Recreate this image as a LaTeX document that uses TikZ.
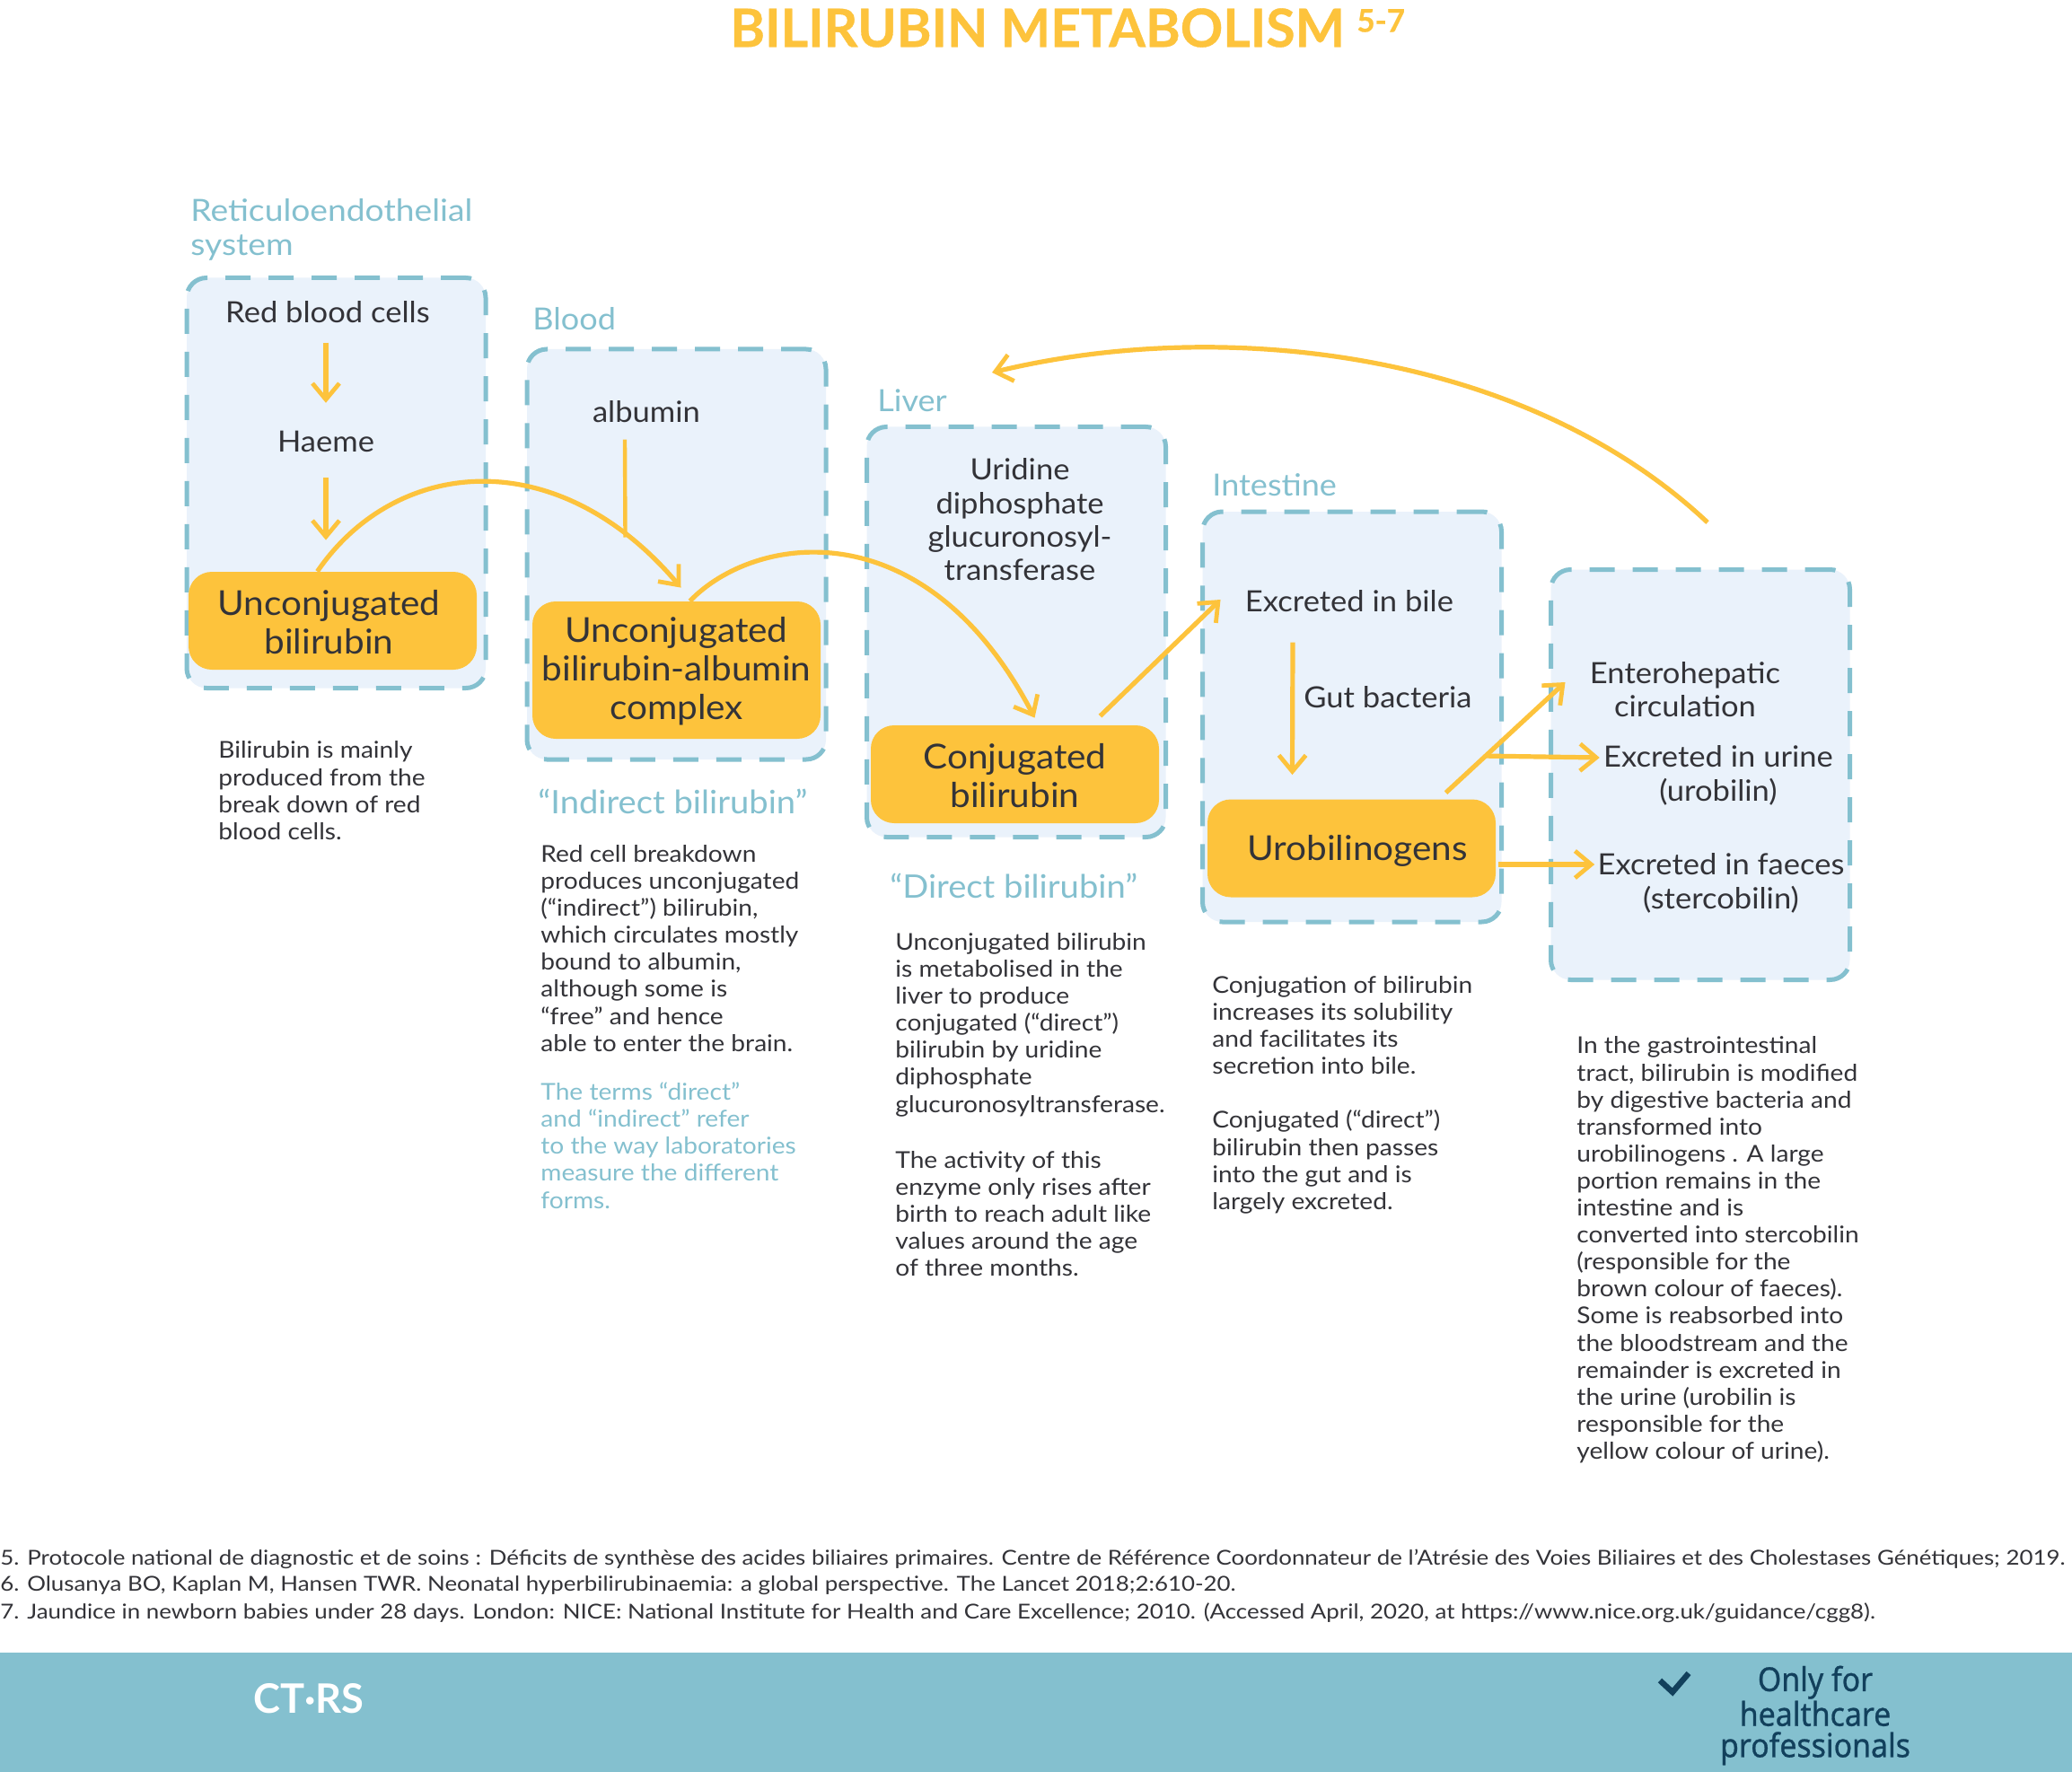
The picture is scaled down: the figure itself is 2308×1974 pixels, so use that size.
\documentclass[tikz,border=0pt]{standalone}
\usepackage{fontspec}
\setmainfont{Lato}
\newfontfamily\rw[FakeStretch=1.06]{Lato}
\newfontfamily\rwh[FakeStretch=1.095]{Lato}
\newfontfamily\rwb[FakeStretch=1.09]{Lato}
\newfontfamily\rwf[FakeStretch=1.13]{Lato}
\newfontfamily\nar[FakeStretch=0.92,FakeBold=0.7]{Noto Sans}
\newfontfamily\ttl[FakeBold=0.6]{Lato Bold}
\usetikzlibrary{arrows.meta,calc}
\definecolor{teal}{HTML}{84C0CF}
\definecolor{pale}{HTML}{EAF2FB}
\definecolor{gold}{HTML}{FDC33C}
\definecolor{ink}{HTML}{333338}
\definecolor{navy}{HTML}{12405C}
\tikzset{
  x=0.5pt,y=-0.5pt,
  group/.style={draw=teal,fill=pale,line width=2.5pt,dash pattern=on 14pt off 10pt,rounded corners=11pt,minimum width=166.5pt,minimum height=228.5pt,inner sep=0pt},
  key/.style={fill=gold,rounded corners=13pt,minimum width=160.5pt,inner sep=0pt,text=ink,align=center,font=\rw\fontsize{19.1}{21.5}\selectfont},
  inbox/.style={text=ink,align=center,inner sep=0pt,font=\rw\fontsize{16.3}{18.7}\selectfont},
  head/.style={text=teal,align=left,inner sep=0pt,anchor=west,font=\rw\fontsize{17}{19}\selectfont},
  quote/.style={text=teal,inner sep=0pt,anchor=west,font=\rw\fontsize{18}{21}\selectfont},
  body/.style={text=ink,align=left,inner sep=0pt,anchor=north west,font=\rwb\fontsize{12.9}{15.05}\selectfont},
  bodyt/.style={body,text=teal},
  foot/.style={text=ink,inner sep=0pt,anchor=west,font=\rwf\fontsize{11.45}{13}\selectfont},
  flow/.style={draw=gold,line width=2.6pt,-{Straight Barb[length=9pt,width=15pt,line width=2.4pt]}},
  flowplain/.style={draw=gold,line width=2.2pt},
}
\begin{document}
\begin{tikzpicture}
\useasboundingbox (0,0) rectangle (2308,1974);
\fill[white] (0,0) rectangle (2308,1974);
\node[inner sep=0pt,minimum width=1154pt,minimum height=66.5pt,fill=teal] (band) at (1154,1907.5) {};
\node[inner sep=0pt,anchor=west,text=gold,font=\ttl\fontsize{29.4}{32}\selectfont] (title) at (813,31) {BILIRUBIN METABOLISM};
\node[inner sep=0pt,anchor=west,text=gold,font=\ttl\fontsize{17.5}{19}\selectfont] (titlesup) at (1511,23) {5-7};

\node[group] (g1) at (374.5,538) {};
\node[group] (g2) at (753.5,617.5) {};
\node[group] (g3) at (1132,704) {};
\node[group] (g4) at (1506,798.5) {};
\node[group] (g5) at (1894,863) {};

\node[head,font=\rwh\fontsize{17}{19}\selectfont] (h1) at (212,256) {Reticuloendothelial\\system};
\node[head] (h2) at (593,355) {Blood};
\node[head] (h3) at (977,446) {Liver};
\node[head] (h4) at (1350,540) {Intestine};

\node[key,minimum height=54.5pt] (y1) at (370.5,691.5) {\rule{0pt}{15.5pt}Unconjugated\hspace*{4pt}\\bilirubin\hspace*{4pt}};
\node[key,minimum height=76.5pt] (y2) at (753.5,746.5) {\rule{0pt}{15pt}Unconjugated\\bilirubin-albumin\\complex};
\node[key,minimum height=54.5pt] (y3) at (1130.5,862.5) {\rule{0pt}{15.5pt}Conjugated\\bilirubin};
\node[key,minimum height=54.5pt,text width=144pt,align=left] (y4) at (1505.5,945) {\rule{0pt}{16.8pt}\hspace{14pt}Urobilinogens};

\node[inbox] (rbc) at (365,348) {Red blood cells};
\node[inbox] (haeme) at (363,492) {Haeme};
\node[inbox] (alb) at (720,459) {albumin};
\node[inbox] (ugt) at (1136,579) {Uridine\\diphosphate\\glucuronosyl-\\transferase};
\node[inbox] (bile) at (1503,670) {Excreted in bile};
\node[inbox] (gut) at (1546,777) {Gut bacteria};
\node[inbox] (entero) at (1877,768) {Enterohepatic\\circulation};
\node[inbox] (urine) at (1914,864) {Excreted in urine\\(urobilin)};
\node[inbox] (faeces) at (1917,984) {Excreted in faeces\\(stercobilin)};

\coordinate (c1s) at ($(y1.north)+(-17,0)$);
\coordinate (c1e) at ($(y2.north)+(5,-15)$);
\coordinate (c2s) at ($(y2.north)+(15,0)$);
\coordinate (c2e) at ($(y3.north)+(22,-8)$);
\coordinate (a3s) at ($(alb.south)+(-24,18)$);
\coordinate (a3e) at ($(g2.center)+(-57,-19)$);
\coordinate (a5s) at ($(y3.north)+(95,-10)$);
\coordinate (a5e) at ($(bile.west)+(-27,-2)$);
\coordinate (a6s) at ($(bile.south)+(-63,33)$);
\coordinate (a6e) at ($(y4.north)+(-66,-27)$);
\coordinate (a7s) at ($(y4.north)+(105,-7)$);
\coordinate (a7e) at ($(entero.west)+(-27,-8)$);
\coordinate (a8s) at ($(y4.north)+(150,-48)$);
\coordinate (a8e) at ($(urine.west)+(-4,-20)$);
\coordinate (a9s) at ($(y4.east)+(3,18)$);
\coordinate (a9e) at ($(faeces.west)+(-3,-21)$);
\coordinate (bigs) at ($(g5.north)+(8,-50)$);
\coordinate (bige) at ($(g3.north)+(-27,-58)$);
\coordinate (a1s) at (rbc.south -| haeme.north);
\coordinate (a2e) at (y1.north -| haeme.south);

\draw[flow,shorten <=10.5pt,shorten >=15.5pt] (a1s) -- (haeme.north);
\draw[flow,shorten <=14pt,shorten >=17.5pt] (haeme.south) -- (a2e);
\draw[flowplain] (a3s) -- (a3e);
\draw[flow] (c1s) .. controls (440,510) and (620,491) .. (c1e);
\draw[flow] (c2s) .. controls (840,595) and (1030,565) .. (c2e);
\draw[flow] (a5s) -- (a5e);
\draw[flow] (a6s) -- (a6e);
\draw[flow] (a7s) -- (a7e);
\draw[flow] (a8s) -- (a8e);
\draw[flow] (a9s) -- (a9e);
\draw[flow] (bigs) .. controls (1700,392) and (1365,352) .. (bige);

\node[body] (t1) at (243,825.5) {Bilirubin is mainly\\produced from the\\break down of red\\blood cells.};
\node[quote] (q1) at (599,893) {“Indirect bilirubin”};
\node[body] (t2) at (602,941) {Red cell breakdown\\produces unconjugated\\(“indirect”) bilirubin,\\which circulates mostly\\bound to albumin,\\although some is\\“free” and hence\\able to enter the brain.};
\node[bodyt] (t2b) at (602,1205.5) {The terms “direct”\\and “indirect” refer\\to the way laboratories\\measure the different\\forms.};
\node[quote] (q2) at (991,987) {“Direct bilirubin”};
\node[body] (t3) at (997,1039) {Unconjugated bilirubin\\is metabolised in the\\liver to produce\\conjugated (“direct”)\\bilirubin by uridine\\diphosphate\\glucuronosyltransferase.};
\node[body] (t3b) at (997,1282) {The activity of this\\enzyme only rises after\\birth to reach adult like\\values around the age\\of three months.};
\node[body] (t4) at (1350,1087) {Conjugation of bilirubin\\increases its solubility\\and facilitates its\\secretion into bile.};
\node[body] (t4b) at (1350,1236.5) {Conjugated (“direct”)\\bilirubin then passes\\into the gut and is\\largely excreted.};
\node[body] (t5) at (1756,1154.5) {In the gastrointestinal\\tract, bilirubin is modified\\by digestive bacteria and\\transformed into\\urobilinogens . A large\\portion remains in the\\intestine and is\\converted into stercobilin\\(responsible for the\\brown colour of faeces).\\Some is reabsorbed into\\the bloodstream and the\\remainder is excreted in\\the urine (urobilin is\\responsible for the\\yellow colour of urine).};

\node[foot] (f5) at (0,1737) {5. Protocole national de diagnostic et de soins : Déficits de synthèse des acides biliaires primaires. Centre de Référence Coordonnateur de l’Atrésie des Voies Biliaires et des Cholestases Génétiques; 2019.};
\node[foot] (f6) at (0,1766) {6. Olusanya BO, Kaplan M, Hansen TWR. Neonatal hyperbilirubinaemia: a global perspective. The Lancet 2018;2:610-20.};
\node[foot] (f7) at (0,1797) {7. Jaundice in newborn babies under 28 days. London: NICE: National Institute for Health and Care Excellence; 2010. (Accessed April, 2020, at https://www.nice.org.uk/guidance/cgg8).};

\node[inner sep=0pt,anchor=west,text=white,font=\fontsize{22.6}{24}\selectfont\bfseries] (ctrs) at (282,1892) {CT·RS};
\node[inner sep=0pt,align=center,text=navy,font=\nar\fontsize{18.4}{17.4}\selectfont] (only) at (2022,1911) {Only for\\healthcare\\professionals};
\draw[navy,line width=3.2pt] (1849,1872) -- (1863,1885) -- (1881,1864);
\end{tikzpicture}
\end{document}
